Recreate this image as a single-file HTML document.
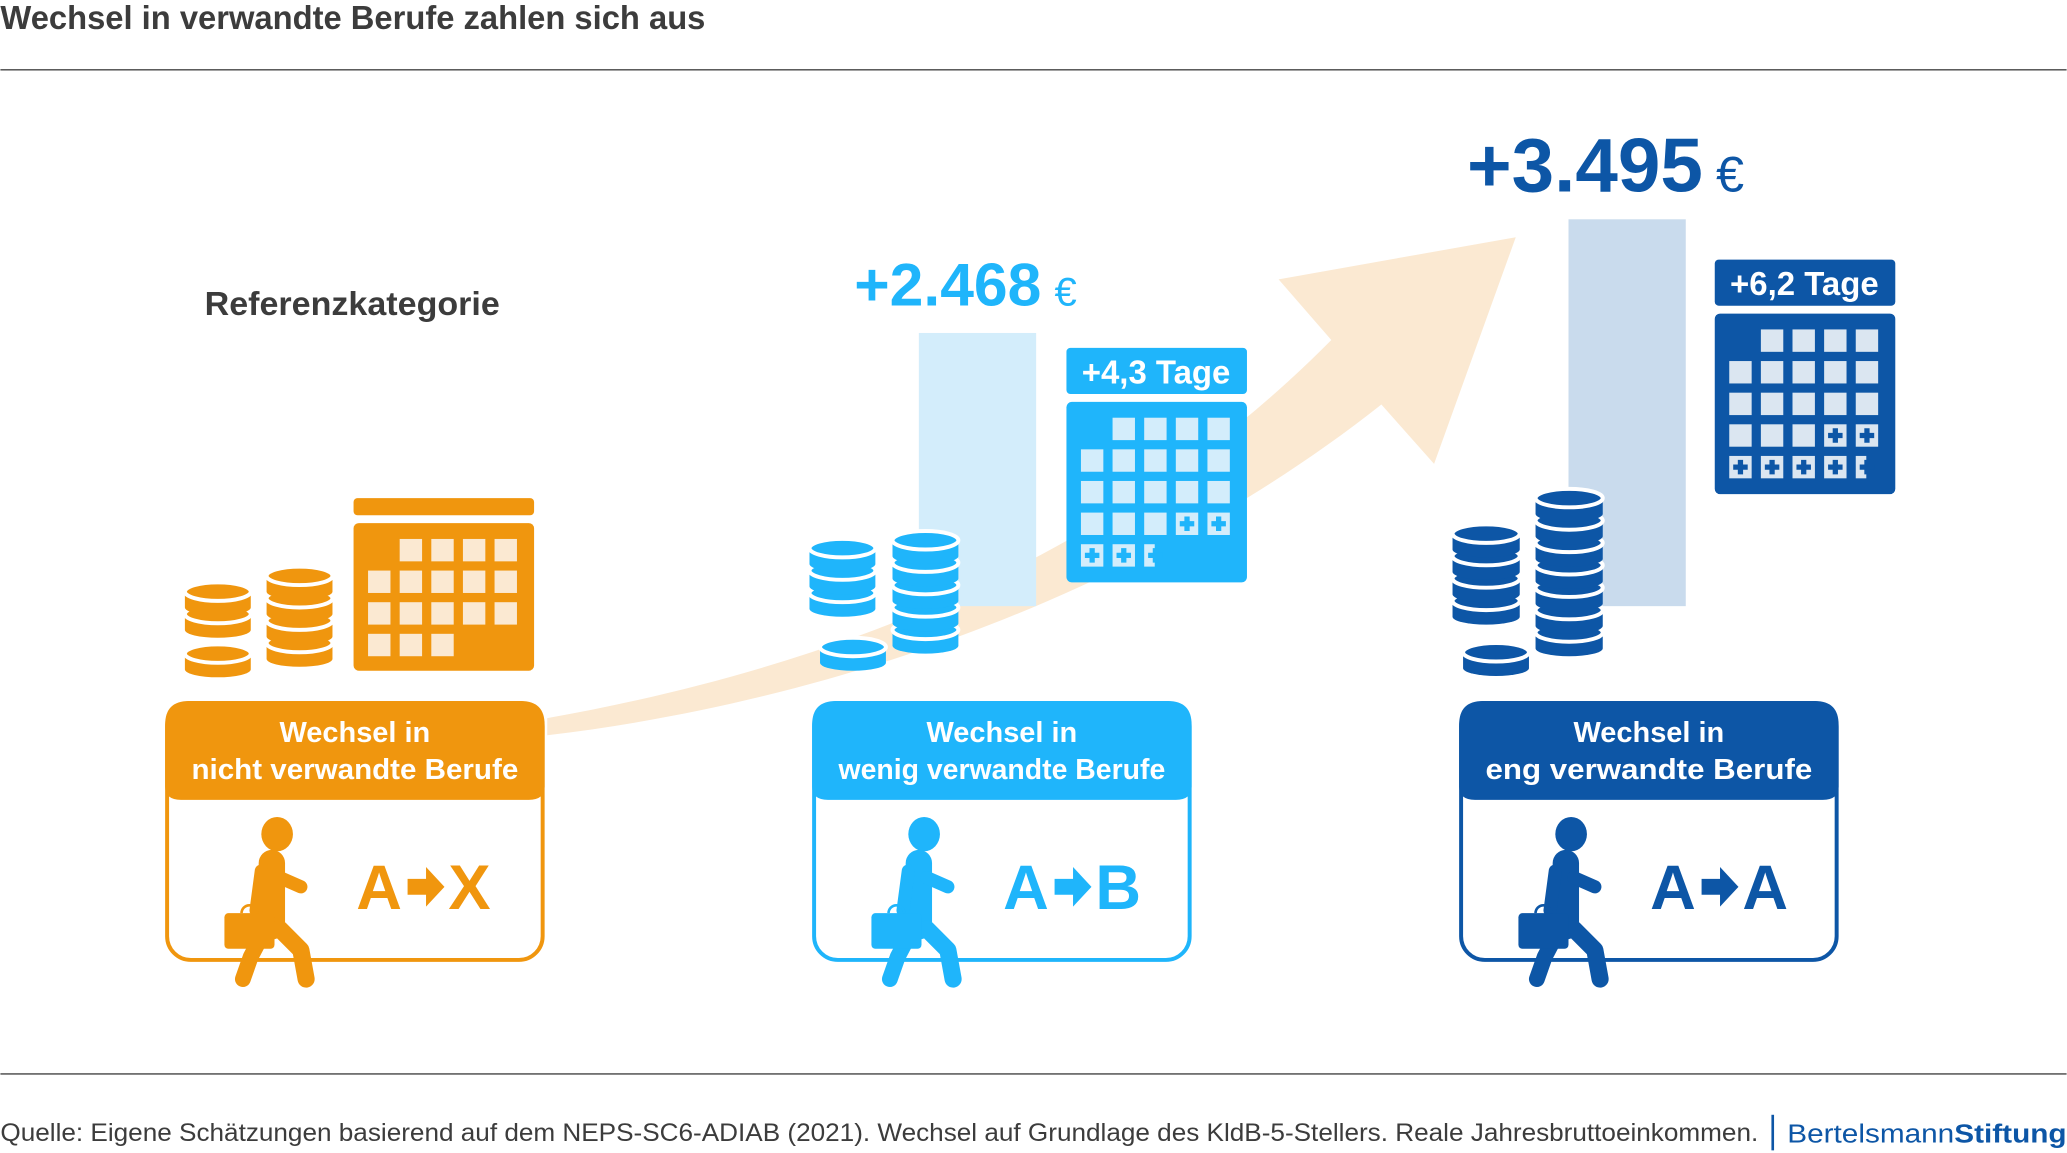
<!DOCTYPE html>
<html><head><meta charset="utf-8"><style>
html,body{margin:0;padding:0;background:#fff;}
svg{display:block;font-family:"Liberation Sans",sans-serif;}
</style></head><body>
<svg id="chart" width="2067" height="1153" viewBox="0 0 1568 875" xmlns="http://www.w3.org/2000/svg">
<text x="0" y="22" font-size="25" font-weight="bold" fill="#3c3c3c" textLength="535" lengthAdjust="spacingAndGlyphs">Wechsel in verwandte Berufe zahlen sich aus</text>
<line x1="0" y1="53" x2="1568" y2="53" stroke="#444" stroke-width="1"/>
<line x1="0" y1="815" x2="1568" y2="815" stroke="#444" stroke-width="1"/>
<text x="0" y="866" font-size="19" fill="#3c3c3c" textLength="1334" lengthAdjust="spacingAndGlyphs">Quelle: Eigene Schätzungen basierend auf dem NEPS-SC6-ADIAB (2021). Wechsel auf Grundlage des KldB-5-Stellers. Reale Jahresbruttoeinkommen.</text>
<line x1="1345" y1="846" x2="1345" y2="873" stroke="#0d56a6" stroke-width="2"/>
<text x="1356" y="867" font-size="20" fill="#0d56a6" textLength="212" lengthAdjust="spacingAndGlyphs">Bertelsmann<tspan font-weight="bold">Stiftung</tspan></text>
<text x="155" y="239" font-size="25" font-weight="bold" fill="#3c3c3c" textLength="224" lengthAdjust="spacingAndGlyphs">Referenzkategorie</text>
<path fill="#fbe9d2" d="M415,545 C640,505 850,420 1010,258 L970,212 L1150,180 L1088,352 L1048,307 C880,440 650,530 415,558 Z"/>
<g id="marks"></g>
</svg>
<script>
const categories = ["Wechsel in nicht verwandte Berufe","Wechsel in wenig verwandte Berufe","Wechsel in eng verwandte Berufe"];
const incomeGain = [0, 2468, 3495];
const incomeLabels = ["", "+2.468", "+3.495"];
const dayGain = [0, 4.3, 6.2];
const dayLabels = ["", "+4,3 Tage", "+6,2 Tage"];
const headerLine2 = ["nicht verwandte Berufe","wenig verwandte Berufe","eng verwandte Berufe"];
const targetLetters = ["X","B","A"];

const NS="http://www.w3.org/2000/svg";
const g=document.getElementById('marks');
const colors=["#f0960e","#1fb5fb","#0d56a6"];
const pale=["#fbe9d2","#d3edfb","#dbe6f1"];
const barFill=["#fbe9d2","#d3edfb","#c9dbed"];
const boxX=[125,616,1107];
const baseY=460;
function yScale(v){return baseY - v*0.0840;}
function mk(tag,attrs,parent){const e=document.createElementNS(NS,tag);for(const k in attrs)e.setAttribute(k,attrs[k]);(parent||g).appendChild(e);return e;}

function coinStack(x,bottom,w,n,col){
  for(let i=0;i<n;i++){
    const yb=bottom-i*17;
    const d=mk('path',{d:`M${x},${yb-12} L${x},${yb} A${w/2},6 0 0 0 ${x+w},${yb} L${x+w},${yb-12} Z`,fill:col});
    
    
    const t=mk('ellipse',{cx:x+w/2,cy:yb-12,rx:w/2,ry:7,fill:col,stroke:'#fff','stroke-width':3});
    
    
  }
}
function calendar(x,y,w,h,i,days){
  const c=mk('rect',{x:x,y:y,width:w,height:h,rx:4,fill:colors[i]});
  
  
  const base=17; let k=0;
  const s=17, gp=24, ox=x+11, oy=y+12;
  const extra=Math.round(days);
  for(let r=0;r<5;r++)for(let col=0;col<5;col++){
    if(r===0&&col===0)continue;
    if(k>=base+extra+(days%1>0?1:0))continue;
    const cx=ox+col*gp, cy=oy+r*gp;
    const cell=mk('rect',{x:cx,y:cy,width:(k>=base+extra)?8:s,height:s,fill:pale[i]});
    
    
    if(k>=base){
      mk('path',{d:`M${cx+3},${cy+8.5} H${cx+14} M${cx+8.5},${cy+3} V${cy+14}`,stroke:colors[i],'stroke-width':4});
    }
    k++;
  }
}
function person(x,y,col){
  const p=mk('g',{transform:`translate(${x},${y})`});
  
  
  mk('ellipse',{cx:40,cy:12,rx:12,ry:13,fill:col},p);
  mk('path',{d:'M36,34 L36,82',stroke:col,'stroke-width':20,'stroke-linecap':'round'},p);
  mk('path',{d:'M28,40 L24,70',stroke:col,'stroke-width':10,'stroke-linecap':'round'},p);
  mk('path',{d:'M42,45 L58,52',stroke:col,'stroke-width':10,'stroke-linecap':'round'},p);
  mk('path',{d:'M42,84 L58,100 L62,122',stroke:col,'stroke-width':13,'stroke-linecap':'round','stroke-linejoin':'round','fill':'none'},p);
  mk('path',{d:'M30,86 L20,105 L14,122',stroke:col,'stroke-width':12,'stroke-linecap':'round','stroke-linejoin':'round','fill':'none'},p);
  mk('rect',{x:0,y:72,width:38,height:27,rx:3,fill:col},p);
  mk('path',{d:'M13,72 A6,6 0 0 1 25,72',stroke:col,'stroke-width':2,fill:'none'},p);
}

categories.forEach((cat,i)=>{
  const bx=boxX[i], col=colors[i];
  const box=mk('rect',{x:bx+1.5,y:533.5,width:285,height:195,rx:18,fill:'#fff',stroke:col,'stroke-width':3});
  
  
  const hd=mk('path',{d:`M${bx},${597} L${bx},${550} Q${bx},532 ${bx+18},532 L${bx+270},532 Q${bx+288},532 ${bx+288},550 L${bx+288},597 Q${bx+288},607 ${bx+276},607 L${bx+12},607 Q${bx},607 ${bx},597 Z`,fill:col});
  
  
  const t1=mk('text',{x:bx+144,y:563,'font-size':22,'font-weight':'bold',fill:'#fff','text-anchor':'middle'});
  t1.textContent='Wechsel in';
  
  
  const t2=mk('text',{x:bx+144,y:591,'font-size':22,'font-weight':'bold',fill:'#fff','text-anchor':'middle',textLength:248,lengthAdjust:'spacingAndGlyphs'});
  t2.textContent=headerLine2[i];
  
  
  person(bx+45,621,col);
  const a1=mk('text',{x:bx+145,y:690,'font-size':48,'font-weight':'bold',fill:col});
  a1.textContent='A';
  
  
  const arw=mk('path',{d:`M${bx+184},${667} H${bx+198} V${658} L${bx+212},${673} L${bx+198},${688} V${679} H${bx+184} Z`,fill:col});
  
  
  const a2=mk('text',{x:bx+215,y:690,'font-size':48,'font-weight':'bold',fill:col});
  a2.textContent=targetLetters[i];
  
  

  if(incomeGain[i]>0){
    const barX=[0,697,1190][i];
    const bar=mk('rect',{x:barX,y:yScale(incomeGain[i]),width:89,height:baseY-yScale(incomeGain[i]),fill:barFill[i]});
    
    
    const fs=i===1?46:58;
    const lx=i===1?648:1113;
    const lab=mk('text',{x:lx,y:yScale(incomeGain[i])-21,'font-size':fs,'font-weight':'bold',fill:i===1?'#1fb5fb':'#0d56a6'});
    lab.textContent=incomeLabels[i];
    
    
    const eu=mk('tspan',{'font-size':fs*0.66,'font-weight':'normal',dx:10},lab);
    eu.textContent='€';
    const cx=[0,809,1301][i];
    const cy=i===1?264:197;
    const badge=mk('rect',{x:cx,y:cy,width:137,height:35,rx:3,fill:col});
    
    
    const bt=mk('text',{x:cx+68,y:cy+27,'font-size':25,'font-weight':'bold',fill:'#fff','text-anchor':'middle'});
    bt.textContent=dayLabels[i];
    
    
    calendar(cx,cy+41,137,137,i,dayGain[i]);
  }
});
const topbar=mk('rect',{x:268,y:378,width:137,height:13,rx:3,fill:colors[0]});


calendar(268,397,137,112,0,0);
coinStack(140,478,50,2,colors[0]); coinStack(140,508,50,1,colors[0]); coinStack(202,500,50,4,colors[0]);
coinStack(614,462,50,3,colors[1]); coinStack(622,503,50,1,colors[1]); coinStack(677,490,50,5,colors[1]);
coinStack(1102,468,51,4,colors[2]); coinStack(1110,507,50,1,colors[2]); coinStack(1165,492,51,7,colors[2]);
</script>
</body></html>
